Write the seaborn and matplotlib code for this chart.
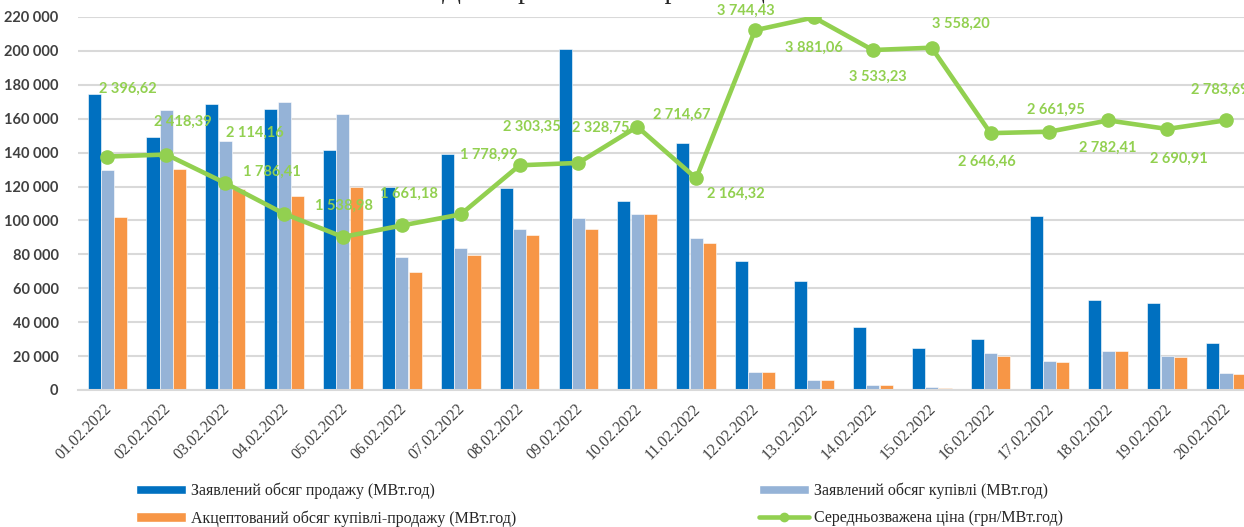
import numpy as np
import pandas as pd
import matplotlib
matplotlib.use("Agg")
import matplotlib.pyplot as plt
import matplotlib.transforms as mtransforms
from matplotlib.patches import Patch
from matplotlib.lines import Line2D
import seaborn as sns

dates = ["01.02.2022", "02.02.2022", "03.02.2022", "04.02.2022", "05.02.2022",
         "06.02.2022", "07.02.2022", "08.02.2022", "09.02.2022", "10.02.2022",
         "11.02.2022", "12.02.2022", "13.02.2022", "14.02.2022", "15.02.2022",
         "16.02.2022", "17.02.2022", "18.02.2022", "19.02.2022", "20.02.2022"]
sell_declared = [174400, 149200, 168500, 165700, 141300, 119600, 139300, 119300, 201300, 111600,
                 145600, 75900, 64500, 37000, 24600, 30100, 102500, 53100, 51100, 27900]
buy_declared = [129900, 165300, 146600, 169800, 162700, 78300, 83800, 94800, 101600, 103900,
                89700, 10400, 5900, 2900, 1500, 21600, 16900, 22800, 19800, 10000]
accepted = [102300, 130100, 118700, 114500, 119600, 69300, 79500, 91700, 95100, 103900,
            86800, 10400, 5900, 2900, 1400, 20100, 16700, 22700, 19600, 9400]
price = [2396.62, 2418.39, 2114.16, 1786.41, 1538.98, 1661.18, 1778.99, 2303.35, 2328.75, 2714.67,
         2164.32, 3744.43, 3881.06, 3533.23, 3558.20, 2646.46, 2661.95, 2782.41, 2690.91, 2783.69]

series_names = ["Заявлений обсяг продажу (МВт.год)",
                "Заявлений обсяг купівлі (МВт.год)",
                "Акцептований обсяг купівлі-продажу (МВт.год)"]
price_name = "Середньозважена ціна (грн/МВт.год)"
title = "Дані про обсяги торгів та ціни"

# label offsets in pixels (dx, dy), placed by hand like in the source
label_offsets = [(20, 68), (17, 33), (30, 50), (-12, 42), (1, 31), (7, 32), (28, 60), (12, 39),
                 (22, 35), (44, 12), (40, -15), (-9, 19), (0, -30), (5, -27), (29, 24), (-4, -29),
                 (6, 22), (-1, -27), (12, -30), (-6, 30)]

colors = ["#0070C0", "#95B3D7", "#F79646"]
green = "#92D050"

df = pd.DataFrame({"date": dates, series_names[0]: sell_declared,
                   series_names[1]: buy_declared, series_names[2]: accepted})
long_df = df.melt(id_vars="date", var_name="series", value_name="value")

sns.set_style("white")
fig = plt.figure(figsize=(12.44, 5.27), dpi=100)
ax = fig.add_axes([0.0627, 0.26, 0.9465, 0.7078])

sns.barplot(data=long_df, x="date", y="value", hue="series", hue_order=series_names,
            palette=colors, saturation=1, width=0.68, gap=0.02, edgecolor="white",
            linewidth=0.4, legend=False, ax=ax)

ax.set_ylim(0, 220000)
ax.set_xlim(-0.5, len(dates) - 0.5)
ax.set_yticks(np.arange(0, 220001, 20000))
ax.set_yticklabels([f"{v:,}".replace(",", " ") for v in range(0, 220001, 20000)],
                   fontfamily="Lato", fontweight="bold", fontsize=10.5, color="#404040")
ax.grid(axis="y", color="#D9D9D9", lw=1.5)
ax.set_axisbelow(True)
for s in ["top", "right", "left"]:
    ax.spines[s].set_visible(False)
ax.spines["bottom"].set_color("#D9D9D9")
ax.spines["bottom"].set_linewidth(1.5)
ax.tick_params(axis="y", length=0, pad=14)
ax.tick_params(axis="x", length=0, pad=12)
ax.set_xlabel("")
ax.set_ylabel("")
ax.set_xticks(range(len(dates)))
ax.set_xticklabels(dates, rotation=45, ha="right", va="center", rotation_mode="anchor",
                   fontfamily="Liberation Serif", fontsize=11.5, color="#404040")
shift = mtransforms.ScaledTranslation(2 / 100, 0, fig.dpi_scale_trans)
for lbl in ax.get_xticklabels():
    lbl.set_transform(lbl.get_transform() + shift)

ax2 = ax.twinx()
ax2.plot(range(len(dates)), price, color=green, lw=3.3, marker="o", ms=9.5)
ax2.set_ylim(-94, 3886)
ax2.axis("off")
for i, p in enumerate(price):
    dx, dy = label_offsets[i]
    ax2.annotate(f"{p:,.2f}".replace(",", " ").replace(".", ","), (i, p),
                 xytext=(dx, dy), textcoords="offset pixels", ha="center", va="center",
                 fontfamily="Lato", fontweight="bold", fontsize=10.5, color=green,
                 annotation_clip=False)

# title sits mostly above the visible area, only its lower part shows
fig.text(0.5, 1 + 2 / 527, title, ha="center", va="baseline", fontfamily="Liberation Serif",
         fontsize=20, color="#262626")

handles = [Patch(facecolor=colors[0]), Patch(facecolor=colors[2]),
           Patch(facecolor=colors[1]), Line2D([], [], color=green, lw=3.3, marker="o", ms=6)]
labels = [series_names[0], series_names[2], series_names[1], price_name]
fig.legend(handles, labels, ncol=2, loc="center", bbox_to_anchor=(0.482, 0.042),
           frameon=False, handlelength=3.1, handleheight=0.55, handletextpad=0.35,
           columnspacing=15.2, labelspacing=0.7,
           prop={"family": "Liberation Serif", "size": 11.5})

fig.savefig("out.png", dpi=100)
